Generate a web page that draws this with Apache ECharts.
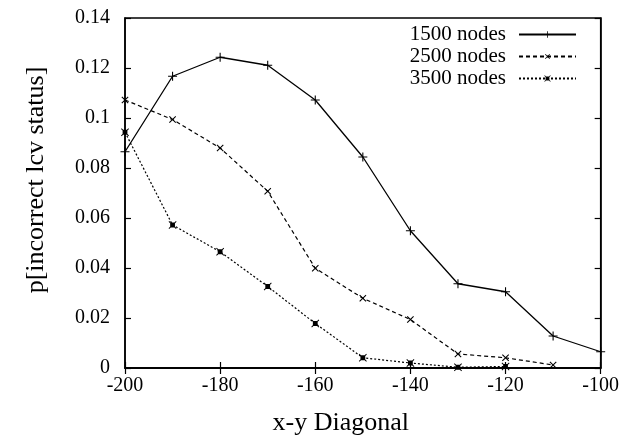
<!DOCTYPE html>
<html><head><meta charset="utf-8">
<script src="https://cdn.jsdelivr.net/npm/echarts@6/dist/echarts.min.js"></script>
<style>html,body{margin:0;padding:0;background:#fff}#c{width:622px;height:441px}</style>
</head><body><div id="c"></div>
<script>
const xDiag = [-200, -190, -180, -170, -160, -150, -140, -130, -120, -110, -100];
const nodes1500 = [0.0865, 0.1167, 0.1243, 0.1211, 0.1072, 0.0844, 0.0549, 0.0337, 0.0305, 0.0128, 0.0065];
const nodes2500 = [0.1072, 0.0994, 0.0880, 0.0707, 0.0399, 0.0279, 0.0194, 0.0056, 0.0041, 0.0012];
const nodes3500 = [0.0943, 0.0572, 0.0465, 0.0326, 0.0178, 0.0041, 0.0020, 0.0003, 0.0006];
const seriesNames = ['1500 nodes', '2500 nodes', '3500 nodes'];

const pair = arr => arr.map((v, i) => [xDiag[i], v]);
const FONT = 'Liberation Serif';
const plus = 'path://M4.4,0H5.6V4.4H10V5.6H5.6V10H4.4V5.6H0V4.4H4.4Z';
const star = 'path://M2,2H8V8H2Z M0,0.8L0.8,0L10,9.2L9.2,10Z M9.2,0L10,0.8L0.8,10L0,9.2Z';

const chart = echarts.init(document.getElementById('c'), null, {renderer: 'canvas'});
const axisCommon = {
  axisLine: {lineStyle: {color: '#000', width: 1.5}},
  axisTick: {inside: true, length: 6, lineStyle: {color: '#000', width: 1.2}},
  splitLine: {show: false}
};
chart.setOption({
  animation: false,
  backgroundColor: '#fff',
  grid: {left: 125, right: 20, top: 18, bottom: 70, show: true, borderColor: '#000', borderWidth: 1.5},
  legend: {
    orient: 'vertical', right: 40, top: 19, align: 'right', itemGap: 1,
    itemWidth: 57, itemHeight: 8,
    textStyle: {fontFamily: FONT, fontSize: 21, color: '#000', padding: [0, 8, 0, 0]},
    data: seriesNames
  },
  xAxis: [
    Object.assign({type: 'value', min: -200, max: -100, interval: 20,
      name: 'x-y Diagonal', nameLocation: 'middle', nameGap: 42,
      nameTextStyle: {fontFamily: FONT, fontSize: 26, color: '#000', padding: [0, 44, 0, 0]},
      axisLabel: {fontFamily: FONT, fontSize: 20, color: '#000', margin: 8}}, axisCommon),
    Object.assign({type: 'value', min: -200, max: -100, interval: 20, position: 'top',
      axisLabel: {show: false}}, axisCommon)
  ],
  yAxis: [
    Object.assign({type: 'value', min: 0, max: 0.14, interval: 0.02,
      name: 'p[incorrect lcv status]', nameLocation: 'middle', nameGap: 76,
      nameTextStyle: {fontFamily: FONT, fontSize: 26, color: '#000', padding: [0, 0, 0, 26]},
      axisLabel: {fontFamily: FONT, fontSize: 20, color: '#000', margin: 15,
        formatter: v => String(+v.toFixed(2))}}, axisCommon),
    Object.assign({type: 'value', min: 0, max: 0.14, interval: 0.02, position: 'right',
      axisLabel: {show: false}}, axisCommon)
  ],
  series: [
    {name: seriesNames[0], type: 'line', data: pair(nodes1500), clip: false,
      symbol: plus, symbolSize: 9, itemStyle: {color: '#000'},
      lineStyle: {color: '#000', width: 1.3, type: 'solid'}},
    {name: seriesNames[1], type: 'line', data: pair(nodes2500), clip: false,
      symbol: plus, symbolSize: 9, symbolRotate: 45, itemStyle: {color: '#000'},
      lineStyle: {color: '#000', width: 1.2, type: [4, 3]}},
    {name: seriesNames[2], type: 'line', data: pair(nodes3500), clip: false,
      symbol: star, symbolSize: 8, itemStyle: {color: '#000'},
      lineStyle: {color: '#000', width: 1.2, type: [2, 2]}}
  ]
});
</script></body></html>
